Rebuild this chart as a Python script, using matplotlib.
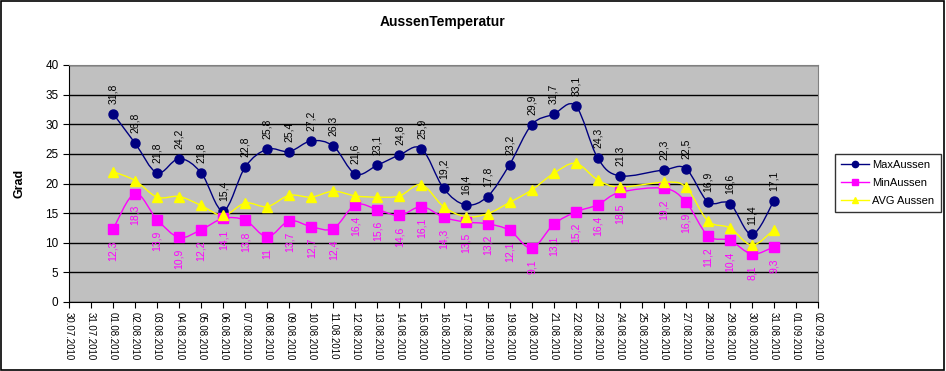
import datetime as dt
import numpy as np
import matplotlib
matplotlib.use("Agg")
import matplotlib.pyplot as plt
import matplotlib.dates as mdates
from matplotlib.path import Path
from matplotlib.patches import PathPatch, Rectangle
from matplotlib.lines import Line2D

plt.rcParams['font.family'] = ['Liberation Sans', 'DejaVu Sans']

# Messtage (25.08. fehlt)
days = [1, 2, 3, 4, 5, 6, 7, 8, 9, 10, 11, 12, 13, 14, 15, 16, 17, 18, 19, 20,
        21, 22, 23, 24, 26, 27, 28, 29, 30, 31]
max_aussen = [31.8, 26.8, 21.8, 24.2, 21.8, 15.4, 22.8, 25.8, 25.4, 27.2, 26.3, 21.6,
              23.1, 24.8, 25.9, 19.2, 16.4, 17.8, 23.2, 29.9, 31.7, 33.1, 24.3, 21.3,
              22.3, 22.5, 16.9, 16.6, 11.4, 17.1]
min_aussen = [12.3, 18.3, 13.9, 10.9, 12.2, 14.1, 13.8, 11.0, 13.7, 12.7, 12.4, 16.4,
              15.6, 14.6, 16.1, 14.3, 13.5, 13.2, 12.1, 9.1, 13.1, 15.2, 16.4, 18.5,
              19.2, 16.9, 11.2, 10.4, 8.1, 9.3]
avg_aussen = [22.0, 20.5, 17.7, 17.8, 16.3, 14.6, 16.7, 16.1, 18.0, 17.7, 18.7, 17.9,
              17.7, 17.9, 19.8, 16.1, 14.4, 14.9, 16.8, 18.9, 21.7, 23.4, 20.6, 19.4,
              20.2, 19.4, 13.7, 12.5, 9.6, 12.2]

dates = [dt.date(2010, 8, d) for d in days]
x_start = dt.date(2010, 7, 30)
x_end = dt.date(2010, 9, 2)


def smooth_path(x, y):
    """Excel-artige geglaettete Linie (Catmull-Rom als Bezier)"""
    x = np.asarray(x, float)
    y = np.asarray(y, float)
    pts = np.column_stack([x, y])
    verts = [pts[0]]
    codes = [Path.MOVETO]
    n = len(pts)
    for i in range(n - 1):
        p0 = pts[i - 1] if i > 0 else pts[i]
        p1 = pts[i]
        p2 = pts[i + 1]
        p3 = pts[i + 2] if i + 2 < n else pts[i + 1]
        c1 = p1 + (p2 - p0) / 6.0
        c2 = p2 - (p3 - p1) / 6.0
        verts += [c1, c2, p2]
        codes += [Path.CURVE4] * 3
    return Path(verts, codes)


def fmt(v):
    return f"{v:g}".replace('.', ',')


fig = plt.figure(figsize=(9.46, 3.71), dpi=100)
ax = fig.add_axes([69 / 946, 1 - 302 / 371, 749 / 946, 237 / 371])
ax.set_facecolor('#C0C0C0')

xn = mdates.date2num(dates)
series = [
    ('MaxAussen', max_aussen, '#000080', 'o', 6.5),
    ('MinAussen', min_aussen, '#FF00FF', 's', 6.5),
    ('AVG Aussen', avg_aussen, '#FFFF00', '^', 6.5),
]
handles = []
for name, vals, col, mk, ms in series:
    ax.add_patch(PathPatch(smooth_path(xn, vals), facecolor='none', edgecolor=col,
                           lw=1.0, zorder=3))
    ax.plot(dates, vals, linestyle='none', marker=mk, color=col, markersize=ms,
            markeredgecolor=col, zorder=4)
    handles.append(Line2D([], [], color=col, marker=mk, markersize=4.5, lw=1.0))

for d, v in zip(dates, max_aussen):
    ax.annotate(fmt(v), (d, v), xytext=(0, 7), textcoords='offset points',
                rotation=90, ha='center', va='bottom', fontsize=7.5, color='black',
                zorder=5)
for d, v in zip(dates, min_aussen):
    ax.annotate(fmt(v), (d, v), xytext=(0, -8), textcoords='offset points',
                rotation=90, ha='center', va='top', fontsize=7.5, color='#FF00FF',
                zorder=5)

ax.set_xlim(mdates.date2num(x_start), mdates.date2num(x_end))
ax.set_ylim(0, 40)
ax.set_yticks(range(0, 41, 5))
ax.yaxis.grid(True, color='black', lw=1.0)
ax.set_axisbelow(True)
ax.xaxis.set_major_locator(mdates.DayLocator())
ax.xaxis.set_major_formatter(mdates.DateFormatter('%d.%m.%Y'))
ax.tick_params(axis='x', rotation=270, labelsize=7, length=4, direction='out',
               pad=3)
ax.tick_params(axis='y', labelsize=8.5, length=4, direction='out')
for lbl in ax.get_xticklabels():
    lbl.set_ha('center')
    lbl.set_va('top')
for side in ['top', 'right']:
    ax.spines[side].set_color('#808080')
for side in ['left', 'bottom']:
    ax.spines[side].set_color('black')

ax.set_ylabel('Grad', fontsize=9, fontweight='bold', labelpad=14)
fig.text(443 / 946, 1 - 22 / 371, 'AussenTemperatur', ha='center', va='center',
         fontsize=10, fontweight='bold')

leg = fig.legend(handles, [s[0] for s in series], loc='center',
                 bbox_to_anchor=(888 / 946, 1 - 183 / 371), fontsize=8,
                 frameon=True, fancybox=False, edgecolor='black',
                 handlelength=2.5, handletextpad=0.3, borderpad=0.6,
                 labelspacing=0.7, borderaxespad=0)
leg.get_frame().set_linewidth(1.0)

fig.patches.append(Rectangle((0.001, 0.003), 0.997, 0.994, transform=fig.transFigure,
                             fill=False, edgecolor='black', lw=1.2))

fig.savefig('out.png', dpi=100)
